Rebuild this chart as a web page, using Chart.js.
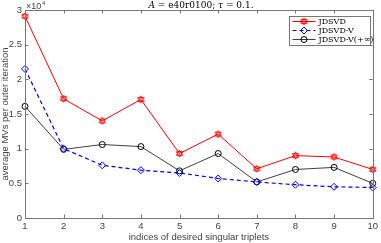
<!DOCTYPE html>
<html>
<head>
<meta charset="utf-8">
<script src="https://cdn.jsdelivr.net/npm/chart.js@4"></script>
<style>
  html, body { margin: 0; padding: 0; background: #fff; }
  #wrap { width: 381px; height: 243px; }
</style>
</head>
<body>
<div id="wrap"><canvas id="chart"></canvas></div>
<script>
const indices = ['1', '2', '3', '4', '5', '6', '7', '8', '9', '10'];
const jdsvd = [29100, 17200, 14000, 17100, 9300, 12100, 7100, 9000, 8800, 7000];
const jdsvdV = [21500, 10000, 7600, 6900, 6500, 5700, 5200, 4800, 4500, 4400];
const jdsvdVInf = [16100, 9900, 10600, 10300, 6800, 9300, 5200, 7000, 7300, 5000];
const seriesNames = ['JDSVD', 'JDSVD-V', 'JDSVD-V(+\u221E)'];
const yTicks = [0, 5000, 10000, 15000, 20000, 25000, 30000];

// six-pointed star marker like matlab 'h'
function hexagram(color) {
  const c = document.createElement('canvas');
  c.width = 9; c.height = 9;
  const g = c.getContext('2d');
  g.strokeStyle = color;
  g.lineWidth = 1;
  const cx = 4.5, cy = 4.5, r = 3.6;
  for (let t = 0; t < 2; t++) {
    g.beginPath();
    for (let k = 0; k < 3; k++) {
      const a = -Math.PI / 2 + t * Math.PI / 3 + k * 2 * Math.PI / 3;
      const px = cx + r * Math.cos(a), py = cy + r * Math.sin(a);
      if (k === 0) g.moveTo(px, py); else g.lineTo(px, py);
    }
    g.closePath();
    g.stroke();
  }
  return c;
}
const starImg = hexagram('#ff0000');

const axisColor = '#777';
const labelColor = '#444';

function drawMarker(ctx, ds, x, y) {
  ctx.save();
  ctx.setLineDash([]);
  ctx.strokeStyle = ds.pointBorderColor;
  ctx.lineWidth = ds.pointBorderWidth;
  if (ds.pointStyle instanceof HTMLCanvasElement) {
    ctx.drawImage(ds.pointStyle, x - ds.pointStyle.width / 2, y - ds.pointStyle.height / 2);
  } else if (ds.pointStyle === 'rectRot') {
    const r = ds.pointRadius;
    ctx.beginPath();
    ctx.moveTo(x, y - r); ctx.lineTo(x + r, y); ctx.lineTo(x, y + r); ctx.lineTo(x - r, y);
    ctx.closePath(); ctx.stroke();
  } else {
    ctx.beginPath();
    ctx.arc(x, y, ds.pointRadius, 0, Math.PI * 2);
    ctx.stroke();
  }
  ctx.restore();
}

const framePlugin = {
  id: 'frame',
  afterDraw(chart) {
    const ctx = chart.ctx;
    const a = chart.chartArea;
    const xs = chart.scales.x, ys = chart.scales.y;
    ctx.save();
    // box
    ctx.strokeStyle = axisColor;
    ctx.lineWidth = 1;
    ctx.strokeRect(Math.round(a.left) + 0.5, Math.round(a.top) + 0.5,
      Math.round(a.right - a.left), Math.round(a.bottom - a.top));
    // inward ticks
    ctx.beginPath();
    indices.forEach((lab, i) => {
      const px = Math.round(xs.getPixelForValue(i)) + 0.5;
      ctx.moveTo(px, a.bottom); ctx.lineTo(px, a.bottom - 3.5);
      ctx.moveTo(px, a.top); ctx.lineTo(px, a.top + 3.5);
    });
    yTicks.forEach(v => {
      const py = Math.round(ys.getPixelForValue(v)) + 0.5;
      ctx.moveTo(a.left, py); ctx.lineTo(a.left + 3.5, py);
      ctx.moveTo(a.right, py); ctx.lineTo(a.right - 3.5, py);
    });
    ctx.stroke();

    // exponent label
    ctx.fillStyle = labelColor;
    ctx.textBaseline = 'alphabetic';
    ctx.textAlign = 'left';
    ctx.font = '9px "Liberation Sans", Arial, sans-serif';
    ctx.fillText('\u00D710', a.left + 1, 9);
    ctx.font = '6px "Liberation Sans", Arial, sans-serif';
    ctx.fillText('4', a.left + 17, 5);

    // title with italic A and tau
    const parts = [
      ['A', 'italic 9px "DejaVu Serif", serif'],
      [' = e40r0100; ', '9px "DejaVu Serif", serif'],
      ['\u03C4', 'italic 9px "DejaVu Serif", serif'],
      [' = 0.1.', '9px "DejaVu Serif", serif']
    ];
    let total = 0;
    parts.forEach(p => { ctx.font = p[1]; total += ctx.measureText(p[0]).width; });
    let tx = 201 - total / 2;
    ctx.fillStyle = '#000';
    parts.forEach(p => {
      ctx.font = p[1];
      ctx.fillText(p[0], tx, 8);
      tx += ctx.measureText(p[0]).width;
    });

    // legend
    const lx = 289.5, ly = 16.5, lw = 81, lh = 29;
    ctx.fillStyle = '#fff';
    ctx.fillRect(lx, ly, lw, lh);
    ctx.strokeStyle = axisColor;
    ctx.setLineDash([]);
    ctx.strokeRect(lx, ly, lw, lh);
    chart.data.datasets.forEach((ds, i) => {
      const ry = ly + 5 + i * 9;
      ctx.save();
      ctx.strokeStyle = ds.borderColor;
      ctx.lineWidth = ds.borderWidth;
      ctx.setLineDash(ds.borderDash || []);
      ctx.beginPath();
      ctx.moveTo(lx + 3, ry); ctx.lineTo(lx + 26, ry);
      ctx.stroke();
      ctx.restore();
      drawMarker(ctx, ds, lx + 14.5, ry);
      ctx.fillStyle = '#000';
      ctx.font = '8px "DejaVu Serif", serif';
      ctx.textBaseline = 'middle';
      ctx.fillText(ds.label, lx + 29, ry + 0.5);
    });
    ctx.restore();
  }
};

new Chart(document.getElementById('chart'), {
  type: 'line',
  data: {
    labels: indices,
    datasets: [
      {
        label: seriesNames[0],
        data: jdsvd,
        borderColor: '#ff0000',
        borderWidth: 1,
        pointStyle: starImg,
        pointRadius: 4,
        pointBorderColor: '#ff0000',
        pointBorderWidth: 1,
        pointBackgroundColor: 'rgba(0,0,0,0)'
      },
      {
        label: seriesNames[1],
        data: jdsvdV,
        borderColor: '#0000ff',
        borderWidth: 1.2,
        borderDash: [4, 3],
        pointStyle: 'rectRot',
        pointRadius: 3.5,
        pointBorderColor: '#0000ff',
        pointBorderWidth: 1,
        pointBackgroundColor: 'rgba(0,0,0,0)'
      },
      {
        label: seriesNames[2],
        data: jdsvdVInf,
        borderColor: '#404040',
        borderWidth: 1,
        pointStyle: 'circle',
        pointRadius: 3,
        pointBorderColor: '#000',
        pointBorderWidth: 1,
        pointBackgroundColor: 'rgba(0,0,0,0)'
      }
    ]
  },
  options: {
    responsive: true,
    maintainAspectRatio: false,
    animation: false,
    layout: { padding: { top: 10, right: 5, left: 0, bottom: 0 } },
    plugins: {
      legend: { display: false },
      tooltip: { enabled: false }
    },
    elements: { line: { tension: 0 } },
    scales: {
      x: {
        offset: false,
        grid: { display: false, drawTicks: false },
        border: { display: false },
        ticks: {
          color: labelColor,
          font: { family: '"Liberation Sans", Arial, sans-serif', size: 9.5 },
          padding: 3,
          maxRotation: 0,
          autoSkip: false
        },
        title: {
          display: true,
          text: 'indices of desired singular triplets',
          color: labelColor,
          font: { family: '"Liberation Sans", Arial, sans-serif', size: 9.5 },
          padding: { top: 0, bottom: 0 }
        },
        afterFit(scale) { scale.height = 25; }
      },
      y: {
        min: 0,
        max: 30000,
        grid: { display: false, drawTicks: false },
        border: { display: false },
        afterBuildTicks(scale) { scale.ticks = yTicks.map(v => ({ value: v })); },
        ticks: {
          color: labelColor,
          font: { family: '"Liberation Sans", Arial, sans-serif', size: 9.5 },
          padding: 3,
          callback: v => String(v / 10000)
        },
        title: {
          display: true,
          text: 'average MVs per outer iteration',
          color: labelColor,
          font: { family: '"Liberation Sans", Arial, sans-serif', size: 9.5 },
          padding: { top: 0, bottom: 0 }
        },
        afterFit(scale) { scale.width = 25; }
      }
    }
  },
  plugins: [framePlugin]
});
</script>
</body>
</html>
